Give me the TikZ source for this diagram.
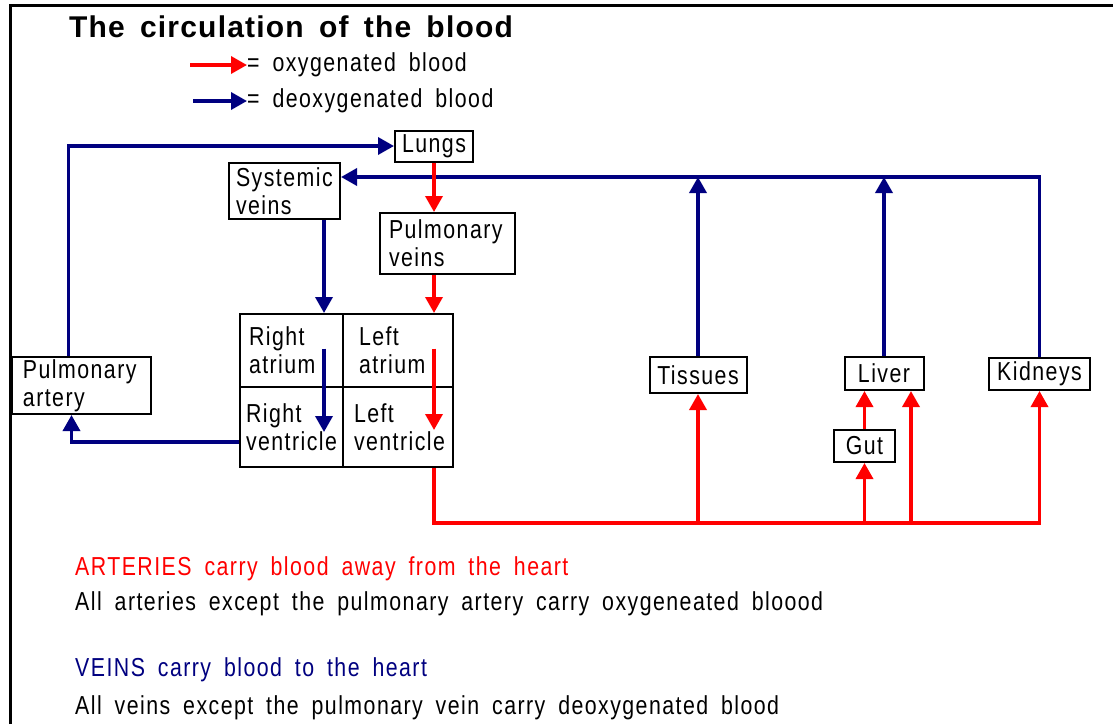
\documentclass[tikz,border=0pt]{standalone}
\usepackage{fontspec}
\setmainfont{Liberation Sans}[FakeStretch=0.82,LetterSpace=5.6,WordSpace=1.75]
\newfontfamily\titlefont{Liberation Sans}[LetterSpace=4,WordSpace=1.6]
\usetikzlibrary{arrows.meta}
\definecolor{deoxyblue}{RGB}{0,0,128}
\definecolor{oxyred}{RGB}{255,0,0}

\begin{document}
\begin{tikzpicture}[x=1pt,y=-1pt,
  organ/.style={draw,line width=2pt,inner xsep=9pt,inner ysep=0pt,align=left,font=\fontsize{26}{28}\selectfont},
  word/.style={draw,line width=2pt,inner sep=0pt,align=center,font=\fontsize{26}{28}\selectfont},
  txt/.style={anchor=west,inner sep=0pt,font=\fontsize{26}{28}\selectfont},
  oxy/.style={draw=oxyred,line width=3.5pt,-{Triangle[length=16pt,width=17pt]}},
  deoxy/.style={draw=deoxyblue,line width=3.5pt,-{Triangle[length=16pt,width=17pt]}}]
			%\draw[help lines,step=50] (0,0) grid (1113,724); %Hilfsgitter
			\useasboundingbox (0,0) rectangle (1113,724);
			\draw[line width=3pt] (10,724) -- (10,5) -- (1113,5); % frame
			
			\node[font=\fontsize{30}{34}\titlefont\bfseries] (title) at (291,27) {The circulation of the blood};
			\node[txt] (oxylbl) at (247,65) {= oxygenated blood}; % legend
			\node[txt] (deoxylbl) at (247,101) {= deoxygenated blood};
			\coordinate (oxytail) at (190,65);
			\coordinate (deoxytail) at (193,101);
			\draw[oxy] (oxytail) -- (oxytail -| oxylbl.west);
			\draw[deoxy] (deoxytail) -- (deoxytail -| deoxylbl.west);
			
			% boxes
			\node[word,minimum width=78pt,minimum height=31pt] (lungs) at (434,146) {Lungs};
			\node[organ,inner xsep=7pt,text width=97pt,minimum height=56pt] (sysveins) at (284.5,191) {Systemic\\veins};
			\node[organ,text width=117pt,minimum height=61pt] (pulveins) at (447.5,243.5) {Pulmonary\\veins};
			\node[organ,inner xsep=11pt,text width=117pt,minimum height=57pt] (pulart) at (81.5,385.5) {Pulmonary\\artery};
			
			% heart
			\node[organ,inner xsep=9pt,text width=85pt,minimum height=73pt] (ra) at (291.5,350.5) {Right\\atrium};
			\node[organ,inner xsep=16pt,text width=78pt,minimum height=73pt] (la) at (398,350.5) {Left\\atrium};
			\node[organ,inner xsep=6pt,text width=91pt,minimum height=80pt] (rv) at (291.5,427) {Right\\ventricle};
			\node[organ,inner xsep=11pt,text width=88pt,minimum height=80pt] (lv) at (398,427) {Left\\ventricle};
			
			\node[word,minimum width=97pt,minimum height=36pt] (tissues) at (698,375) {Tissues};
			\node[word,minimum width=79pt,minimum height=33pt] (liver) at (884,373.5) {Liver};
			\node[word,minimum width=101pt,minimum height=32pt] (kidneys) at (1039.5,374) {Kidneys};
			\node[word,minimum width=61pt,minimum height=32pt] (gut) at (864.5,446) {Gut};
			
			% deoxygenated
			\coordinate (vc) at ([yshift=14pt]sysveins.east);
			\coordinate (sv) at ([xshift=-17pt]sysveins.south east);
			\draw[deoxy] ([xshift=-13pt]pulart.north) |- (lungs.west);
			\draw[deoxy] (kidneys.north) |- (vc);
			\draw[deoxy] (tissues.north) -- (tissues.north |- vc);
			\draw[deoxy] (liver.north) -- (liver.north |- vc);
			\draw[deoxy] (sv) -- (sv |- ra.north);
			\draw[deoxy] ([xshift=-20pt,yshift=2pt]ra.east) -- ([xshift=-20pt,yshift=-5pt]rv.east);
			\draw[deoxy] ([yshift=-15pt]rv.west) -| ([xshift=-10pt]pulart.south);
			
			% oxygenated
			\coordinate (ao) at ([xshift=-20pt,yshift=-55pt]lv.south east);
			\coordinate (hep) at ([xshift=27pt]liver.south);
			\draw[oxy] (lungs.south) -- (pulveins.north -| lungs.south);
			\draw[oxy] (pulveins.south -| lungs.south) -- (la.north -| lungs.south);
			\draw[oxy] ([xshift=-20pt,yshift=2pt]la.east) -- ([xshift=-20pt,yshift=-3pt]lv.east);
			\draw[oxy] (lv.south -| ao) -- (ao) -| (kidneys.south);
			\draw[oxy] (tissues.south |- ao) -- (tissues.south);
			\draw[oxy] (gut.south |- ao) -- (gut.south);
			\draw[oxy] (gut.north) -- (gut.north |- liver.south);
			\draw[oxy] (hep |- ao) -- (hep);
			
			\node[txt,text=oxyred] (arteries) at (75,569) {ARTERIES carry blood away from the heart};
			\node[txt] (artnote) at (75,604) {All arteries except the pulmonary artery carry oxygeneated bloood};
			\node[txt,text=deoxyblue] (veins) at (75,670) {VEINS carry blood to the heart};
			\node[txt] (veinnote) at (75,708) {All veins except the pulmonary vein carry deoxygenated blood};
			
\end{tikzpicture}
\end{document}
